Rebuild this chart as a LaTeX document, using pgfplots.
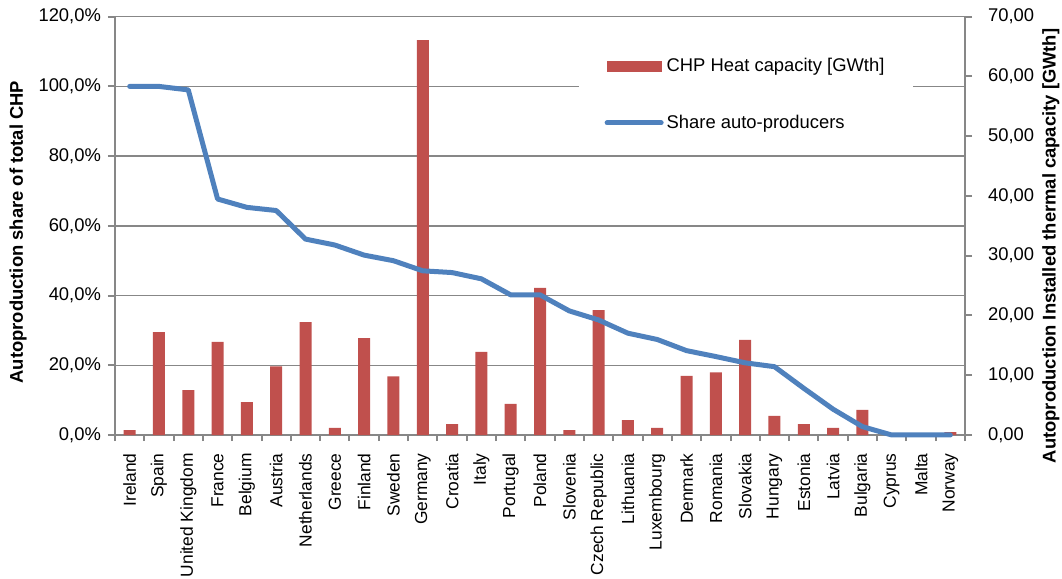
\documentclass[border=0pt]{standalone}
\usepackage{fontspec}
\setmainfont{Liberation Sans}
\usepackage{pgfplots}
\usepackage{pgfplotstable}
\pgfplotsset{compat=1.18}

\definecolor{barred}{HTML}{C0504D}
\definecolor{lineblue}{HTML}{4F81BD}
\definecolor{gridgray}{HTML}{878787}

% x = category index, heat = CHP heat capacity [GWth] (right axis), share = auto-producer share [%] (left axis)
\pgfplotstableread{
x heat share
0  0.8  100
1  17.2 100
2  7.5  99.0
3  15.6 67.7
4  5.5  65.3
5  11.5 64.4
6  18.9 56.2
7  1.2  54.5
8  16.2 51.6
9  9.8  50.0
10 66.1 47.1
11 1.8  46.6
12 13.9 44.8
13 5.2  40.2
14 24.6 40.2
15 0.8  35.6
16 20.9 33.0
17 2.5  29.2
18 1.2  27.4
19 9.9  24.2
20 10.5 22.5
21 15.9 20.7
22 3.2  19.6
23 1.8  13.4
24 1.2  7.4
25 4.2  2.4
26 0    0
27 0    0
28 0.5  0
}\chpdata

\begin{document}
\begin{tikzpicture}
\useasboundingbox (0,0) rectangle (531pt,289.5pt);
\pgfplotsset{
  chpbase/.style={
    at={(57.5pt,72pt)}, anchor=south west,
    scale only axis, width=425pt, height=209.15pt,
    xmin=-0.5, xmax=28.5,
    font=\fontsize{9.2}{11}\selectfont,
    /pgf/number format/assume math mode=true,
  },
}

% left scale: grid, left ticks, category labels
\begin{axis}[chpbase,
  ymin=0, ymax=120, ytick={0,20,...,120},
  axis y line*=left, axis x line*=bottom,
  axis line style={gridgray, line width=1pt},
  ymajorgrids, grid style={gridgray, line width=0.75pt},
  tick align=outside,
  y tick style={gridgray, line width=1pt},
  major tick length=3.5pt,
  yticklabel={\pgfmathprintnumber[fixed,fixed zerofill,precision=1,use comma]{\tick}\%},
  xtick={0,...,28},
  xticklabels={Ireland,Spain,United Kingdom,France,Belgium,Austria,Netherlands,Greece,Finland,Sweden,Germany,Croatia,Italy,Portugal,Poland,Slovenia,Czech Republic,Lithuania,Luxembourg,Denmark,Romania,Slovakia,Hungary,Estonia,Latvia,Bulgaria,Cyprus,Malta,Norway},
  major x tick style={draw=none},
  minor xtick={-0.5,0.5,...,28.5},
  minor x tick style={gridgray, line width=1pt},
  minor tick length=3pt,
  xticklabel style={rotate=90, anchor=east, inner xsep=5.5pt,
    font=\fontsize{8.7}{11}\selectfont},
  ylabel={\bfseries Autoproduction share of total CHP},
  ylabel style={at={(axis description cs:-0.114,0.485)}, anchor=center},
]
\end{axis}

% right scale: heat capacity bars
\begin{axis}[chpbase,
  ymin=0, ymax=70, ytick={0,10,...,70},
  axis y line*=right, axis x line=none,
  axis line style={gridgray, line width=1pt},
  tick align=outside,
  y tick style={gridgray, line width=1pt},
  major tick length=3.5pt,
  yticklabel={\pgfmathprintnumber[fixed,fixed zerofill,precision=2,use comma]{\tick}},
  yticklabel style={xshift=4.5pt},
  ylabel={\bfseries Autoproduction Installed thermal capacity [GWth]},
  ylabel style={at={(axis description cs:1.101,0.452)}, anchor=center},
  ybar, bar width=6pt,
]
\addplot[draw=none, fill=barred] table[x=x, y=heat]{\chpdata};
\end{axis}

% left scale again: share line on top, legend
\begin{axis}[chpbase,
  ymin=0, ymax=120, hide axis, clip=false,
  legend cell align=left,
  legend style={draw=none, fill=white,
    at={(axis description cs:0.545,0.954)}, anchor=north west,
    inner xsep=13pt, inner ysep=9pt, row sep=16pt,
    font=\fontsize{9.2}{11}\selectfont,
    nodes={inner xsep=1.5pt}},
  legend image code/.code={\draw[#1] (0pt,0pt) -- (27pt,0pt);},
]
\addlegendimage{legend image code/.code={\fill[barred] (0pt,-2.5pt) rectangle (27pt,2.5pt);}}
\addlegendentry{CHP Heat capacity [GWth]}
\addplot[lineblue, line width=2.5pt, line join=round, line cap=round, mark=none] table[x=x, y=share]{\chpdata};
\addlegendentry{Share auto-producers}
\end{axis}
\end{tikzpicture}
\end{document}
